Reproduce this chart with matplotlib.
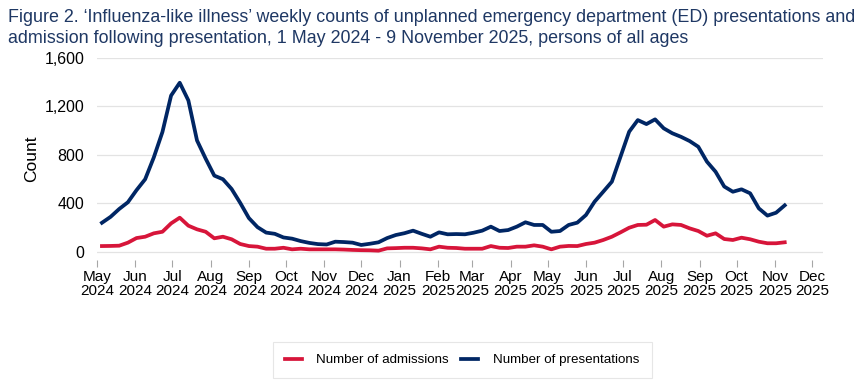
import matplotlib
matplotlib.use("Agg")
import matplotlib.pyplot as plt
import matplotlib.dates as mdates
import numpy as np
import pandas as pd

plt.rcParams['font.family'] = ['Liberation Sans', 'DejaVu Sans']

week_start = "2024-05-05"
n_weeks = 80
presentations = [241, 290, 355, 410, 510, 600, 780, 990, 1290, 1396,
                 1250, 920, 770, 630, 600, 520, 405, 280, 205, 160,
                 150, 120, 110, 90, 75, 65, 62, 85, 82, 77,
                 58, 68, 80, 115, 140, 155, 176, 150, 126, 162,
                 146, 148, 146, 159, 176, 209, 173, 181, 209, 245,
                 223, 223, 167, 173, 223, 242, 305, 415, 497, 580,
                 786, 992, 1088, 1055, 1094, 1020, 979, 950, 915, 868,
                 745, 662, 540, 497, 517, 484, 360, 300, 324, 385]
admissions = [49, 50, 52, 77, 115, 126, 154, 167, 236, 283,
              217, 187, 167, 113, 126, 105, 66, 49, 44, 27,
              27, 35, 22, 27, 22, 22, 22, 22, 20, 17,
              15, 14, 11, 30, 32, 35, 35, 30, 22, 44,
              35, 33, 27, 27, 27, 49, 35, 33, 44, 44,
              55, 44, 22, 44, 50, 49, 66, 77, 99, 126,
              162, 200, 223, 225, 264, 209, 228, 223, 195, 173,
              134, 154, 107, 99, 118, 105, 85, 72, 72, 80]
yticks = [0, 400, 800, 1200, 1600]
title = ("Figure 2. \u2018Influenza-like illness\u2019 weekly counts of unplanned emergency department (ED) presentations and\n"
         "admission following presentation, 1 May 2024 - 9 November 2025, persons of all ages")

dates = pd.date_range(week_start, periods=n_weeks, freq="7D")

fig = plt.figure(figsize=(8.68, 3.89), dpi=100)
ax = fig.add_axes([97/868, 1-260/389, 726/868, 202/389])

red = "#D7153A"
navy = "#002664"
ax.plot(dates, admissions, color=red, lw=2.7, label="Number of admissions", solid_joinstyle="round")
ax.plot(dates, presentations, color=navy, lw=2.7, label="Number of presentations", solid_joinstyle="round")

ax.set_xlim(pd.Timestamp("2024-05-01"), pd.Timestamp("2025-12-10"))
ax.set_ylim(-66, 1600)
ax.set_yticks(yticks)
ax.set_yticklabels([f"{v:,}" for v in yticks], fontsize=11.5)
ax.yaxis.grid(True, color="#e3e3e3", lw=0.9)
ax.set_axisbelow(True)
ax.tick_params(axis="y", length=0, pad=9)

ax.xaxis.set_major_locator(mdates.MonthLocator())
ax.xaxis.set_major_formatter(mdates.DateFormatter("%b\n%Y"))
ax.tick_params(axis="x", length=5, color="#a6a6a6", labelsize=11, pad=2)
for lab in ax.get_xticklabels():
    lab.set_linespacing(1.05)

for s in ax.spines.values():
    s.set_visible(False)

ax.set_ylabel("Count", fontsize=12.5, labelpad=4)

fig.text(8/868, 1-9/389, title, fontsize=12.9, color="#1F3864", va="top", ha="left", linespacing=1.33)

leg = fig.legend(loc="center", bbox_to_anchor=(462/868, 1-360/389), ncol=2, frameon=True,
                 fontsize=9.6, handlelength=1.3, handletextpad=1.1, columnspacing=0.9,
                 borderpad=0.9, fancybox=False, edgecolor="#e0e0e0")
leg.get_frame().set_linewidth(0.8)

fig.savefig("out.png", dpi=100)
